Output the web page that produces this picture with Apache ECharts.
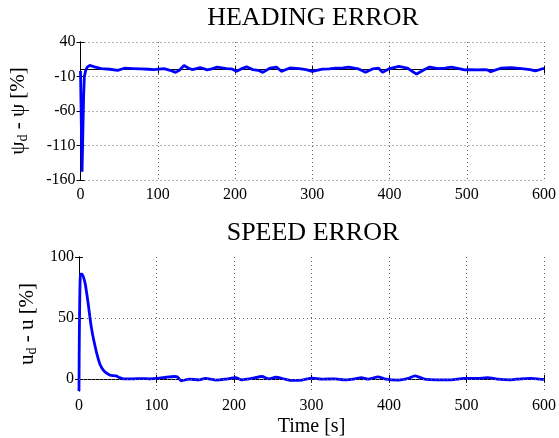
<!DOCTYPE html>
<html>
<head>
<meta charset="utf-8">
<script src="https://cdn.jsdelivr.net/npm/echarts@6/dist/echarts.min.js"></script>
<style>html,body{margin:0;padding:0;background:#fff;}#c{width:559px;height:438px;}</style>
</head>
<body>
<div id="c"></div>
<script>
// Heading error (time [s], value [%])
var headingTime = [0, 2, 4, 5, 7, 9, 12, 18, 27, 38, 48, 57, 68, 78, 88, 95, 108, 116, 123, 128, 134, 140, 145, 155, 164, 170, 177, 189, 196, 202, 208, 215, 223, 230, 236, 245, 254, 260, 271, 283, 292, 300, 313, 322, 330, 340, 347, 360, 369, 378, 386, 391, 399, 412, 423, 435, 446, 452, 463, 472, 480, 490, 497, 505, 514, 522, 527, 531, 544, 557, 565, 574, 582, 589, 600];
var headingValue = [-2, -148, -40, -10, 0, 4, 6, 4, 1.5, 0.5, -1, 2, 1.5, 1, 0.5, 0, 1.5, -1, -4, -1, 6, 2, 0, 3, -0.5, 1, 3.5, 1.5, 1, -2.5, 1, 4, 0, -1, -4, 2, 3.5, -2.5, 2.3, 1.3, 0, -2.6, 0.8, 1, 2, 2.5, 3.5, 1, -4, 1, 2, -4, 1, 4.7, 2.3, -6.5, 0.5, 3.6, 1.4, 2, 3.5, 1.5, -0.5, 0, -0.5, 0, -0.5, -3, 2, 3, 2, 1, 0, -2, 2];
// Speed error
var speedTime = [0, 0.5, 2, 4, 7.7, 10, 12, 14, 16, 18, 20, 23, 27, 31.6, 36, 40, 48, 52, 57, 70, 80, 91, 104, 112.5, 123, 127, 132, 142, 155, 163, 176, 189, 202, 210, 223, 236, 245, 254, 266, 275, 288, 301, 313, 330, 343, 356, 364, 373, 386, 394, 412, 425, 433.5, 446, 463, 480, 497, 514, 527, 540, 557, 570, 583, 595, 600];
var speedValue = [-10, 40, 86, 86, 79, 70, 61, 51, 42, 35, 29, 20.6, 12, 7, 4.5, 3, 2.4, 1, 0, 0, 0.2, 0, 0.5, 1.3, 1.9, 1.5, -1.6, -0.3, -0.8, 0.3, -1, -0.3, 1, -0.8, 0.3, 1.9, 0, 1.3, -0.3, -1.3, -1, 0.5, -0.3, 0, -0.8, 0, 1, -0.3, 1.6, 0, -1, 0.3, 2.4, -0.3, -0.8, -0.8, 0.3, 0.3, 1, -0.3, -0.8, 0, 0.3, -0.3, -0.5];
var xTicks = [0, 100, 200, 300, 400, 500, 600];
var headingTicks = [-160, -110, -60, -10, 40];
var speedTicks = [0, 50, 100];
var speedGridLines = [0, 50];

var FONT = '"Liberation Serif", "Times New Roman", serif';
var gridLine = {show: true, lineStyle: {color: '#666', type: [1, 3], width: 1}};
var tick = {show: true, inside: true, length: 4, lineStyle: {color: '#000'}};
var axisLine = {show: true, lineStyle: {color: '#000', width: 1}};
var label = {color: '#000', fontFamily: FONT, fontSize: 16};

function pairs(t, v) { return t.map(function (x, i) { return [x, v[i]]; }); }

var chart = echarts.init(document.getElementById('c'), null, {renderer: 'canvas'});
chart.setOption({
  animation: false,
  backgroundColor: '#fff',
  title: [
    {text: 'HEADING ERROR', left: 313, top: 5, textAlign: 'center', padding: 0,
     textStyle: {fontFamily: FONT, fontSize: 26, fontWeight: 'normal', color: '#000'}},
    {text: 'SPEED ERROR', left: 313, top: 220, textAlign: 'center', padding: 0,
     textStyle: {fontFamily: FONT, fontSize: 26, fontWeight: 'normal', color: '#000'}}
  ],
  grid: [
    {left: 79, right: 12, top: 42, height: 138},
    {left: 79, right: 12, top: 257, bottom: 43}
  ],
  xAxis: [
    {type: 'value', gridIndex: 0, min: 0, max: 600, interval: 100, axisLine: axisLine, axisTick: tick,
     axisLabel: Object.assign({margin: 7}, label), splitLine: gridLine},
    {type: 'value', gridIndex: 0, position: 'top', min: 0, max: 600, interval: 100, axisLine: axisLine, axisTick: tick,
     axisLabel: {show: false}, splitLine: {show: false}},
    {type: 'value', gridIndex: 1, min: 0, max: 600, interval: 100, axisLine: axisLine, axisTick: tick,
     axisLabel: Object.assign({margin: 7}, label), splitLine: gridLine,
     name: 'Time [s]', nameLocation: 'middle', nameGap: 26,
     nameTextStyle: {fontFamily: FONT, fontSize: 20, color: '#000'}},
    {type: 'value', gridIndex: 1, position: 'top', min: 0, max: 600, interval: 100, axisLine: axisLine, axisTick: tick,
     axisLabel: {show: false}, splitLine: {show: false}}
  ],
  yAxis: [
    {type: 'value', gridIndex: 0, min: headingTicks[0], max: headingTicks[headingTicks.length - 1], interval: 50,
     axisLine: axisLine, axisTick: tick, axisLabel: Object.assign({margin: 5}, label), splitLine: gridLine,
     name: '{m|ψ}{s|d}{m| - ψ [%]}', nameLocation: 'middle', nameRotate: 90, nameGap: 50,
     nameTextStyle: {rich: {
       m: {fontFamily: FONT, fontSize: 21, color: '#000', lineHeight: 24},
       s: {fontFamily: FONT, fontSize: 14, color: '#000', lineHeight: 12, verticalAlign: 'bottom'}
     }}},
    {type: 'value', gridIndex: 0, position: 'right', min: -160, max: 40, interval: 50,
     axisLine: axisLine, axisTick: tick, axisLabel: {show: false}, splitLine: {show: false}},
    {type: 'value', gridIndex: 1, min: -10, max: 100,
     axisLine: axisLine,
     axisTick: Object.assign({customValues: speedTicks}, tick),
     axisLabel: Object.assign({margin: 5, customValues: speedTicks}, label),
     splitLine: {show: false},
     name: '{m|u}{s|d}{m| - u [%]}', nameLocation: 'middle', nameRotate: 90, nameGap: 37,
     nameTextStyle: {rich: {
       m: {fontFamily: FONT, fontSize: 21, color: '#000', lineHeight: 24},
       s: {fontFamily: FONT, fontSize: 14, color: '#000', lineHeight: 12, verticalAlign: 'bottom'}
     }}},
    {type: 'value', gridIndex: 1, position: 'right', min: -10, max: 100,
     axisLine: axisLine, axisTick: Object.assign({customValues: speedTicks}, tick),
     axisLabel: {show: false}, splitLine: {show: false}}
  ],
  series: [
    {type: 'line', xAxisIndex: 0, yAxisIndex: 0, data: pairs(headingTime, headingValue),
     showSymbol: false, lineStyle: {color: '#0000ff', width: 2.8}, itemStyle: {color: '#0000ff'}, clip: true},
    {type: 'line', xAxisIndex: 2, yAxisIndex: 2, data: pairs(speedTime, speedValue),
     showSymbol: false, smooth: 0.25, lineStyle: {color: '#0000ff', width: 2.8}, itemStyle: {color: '#0000ff'}, clip: true, z: 3,
     markLine: {silent: true, symbol: 'none', label: {show: false}, animation: false,
       lineStyle: {color: '#666', type: [1, 3], width: 1},
       data: speedGridLines.map(function (v) { return {yAxis: v}; })}}
  ]
});
</script>
</body>
</html>
